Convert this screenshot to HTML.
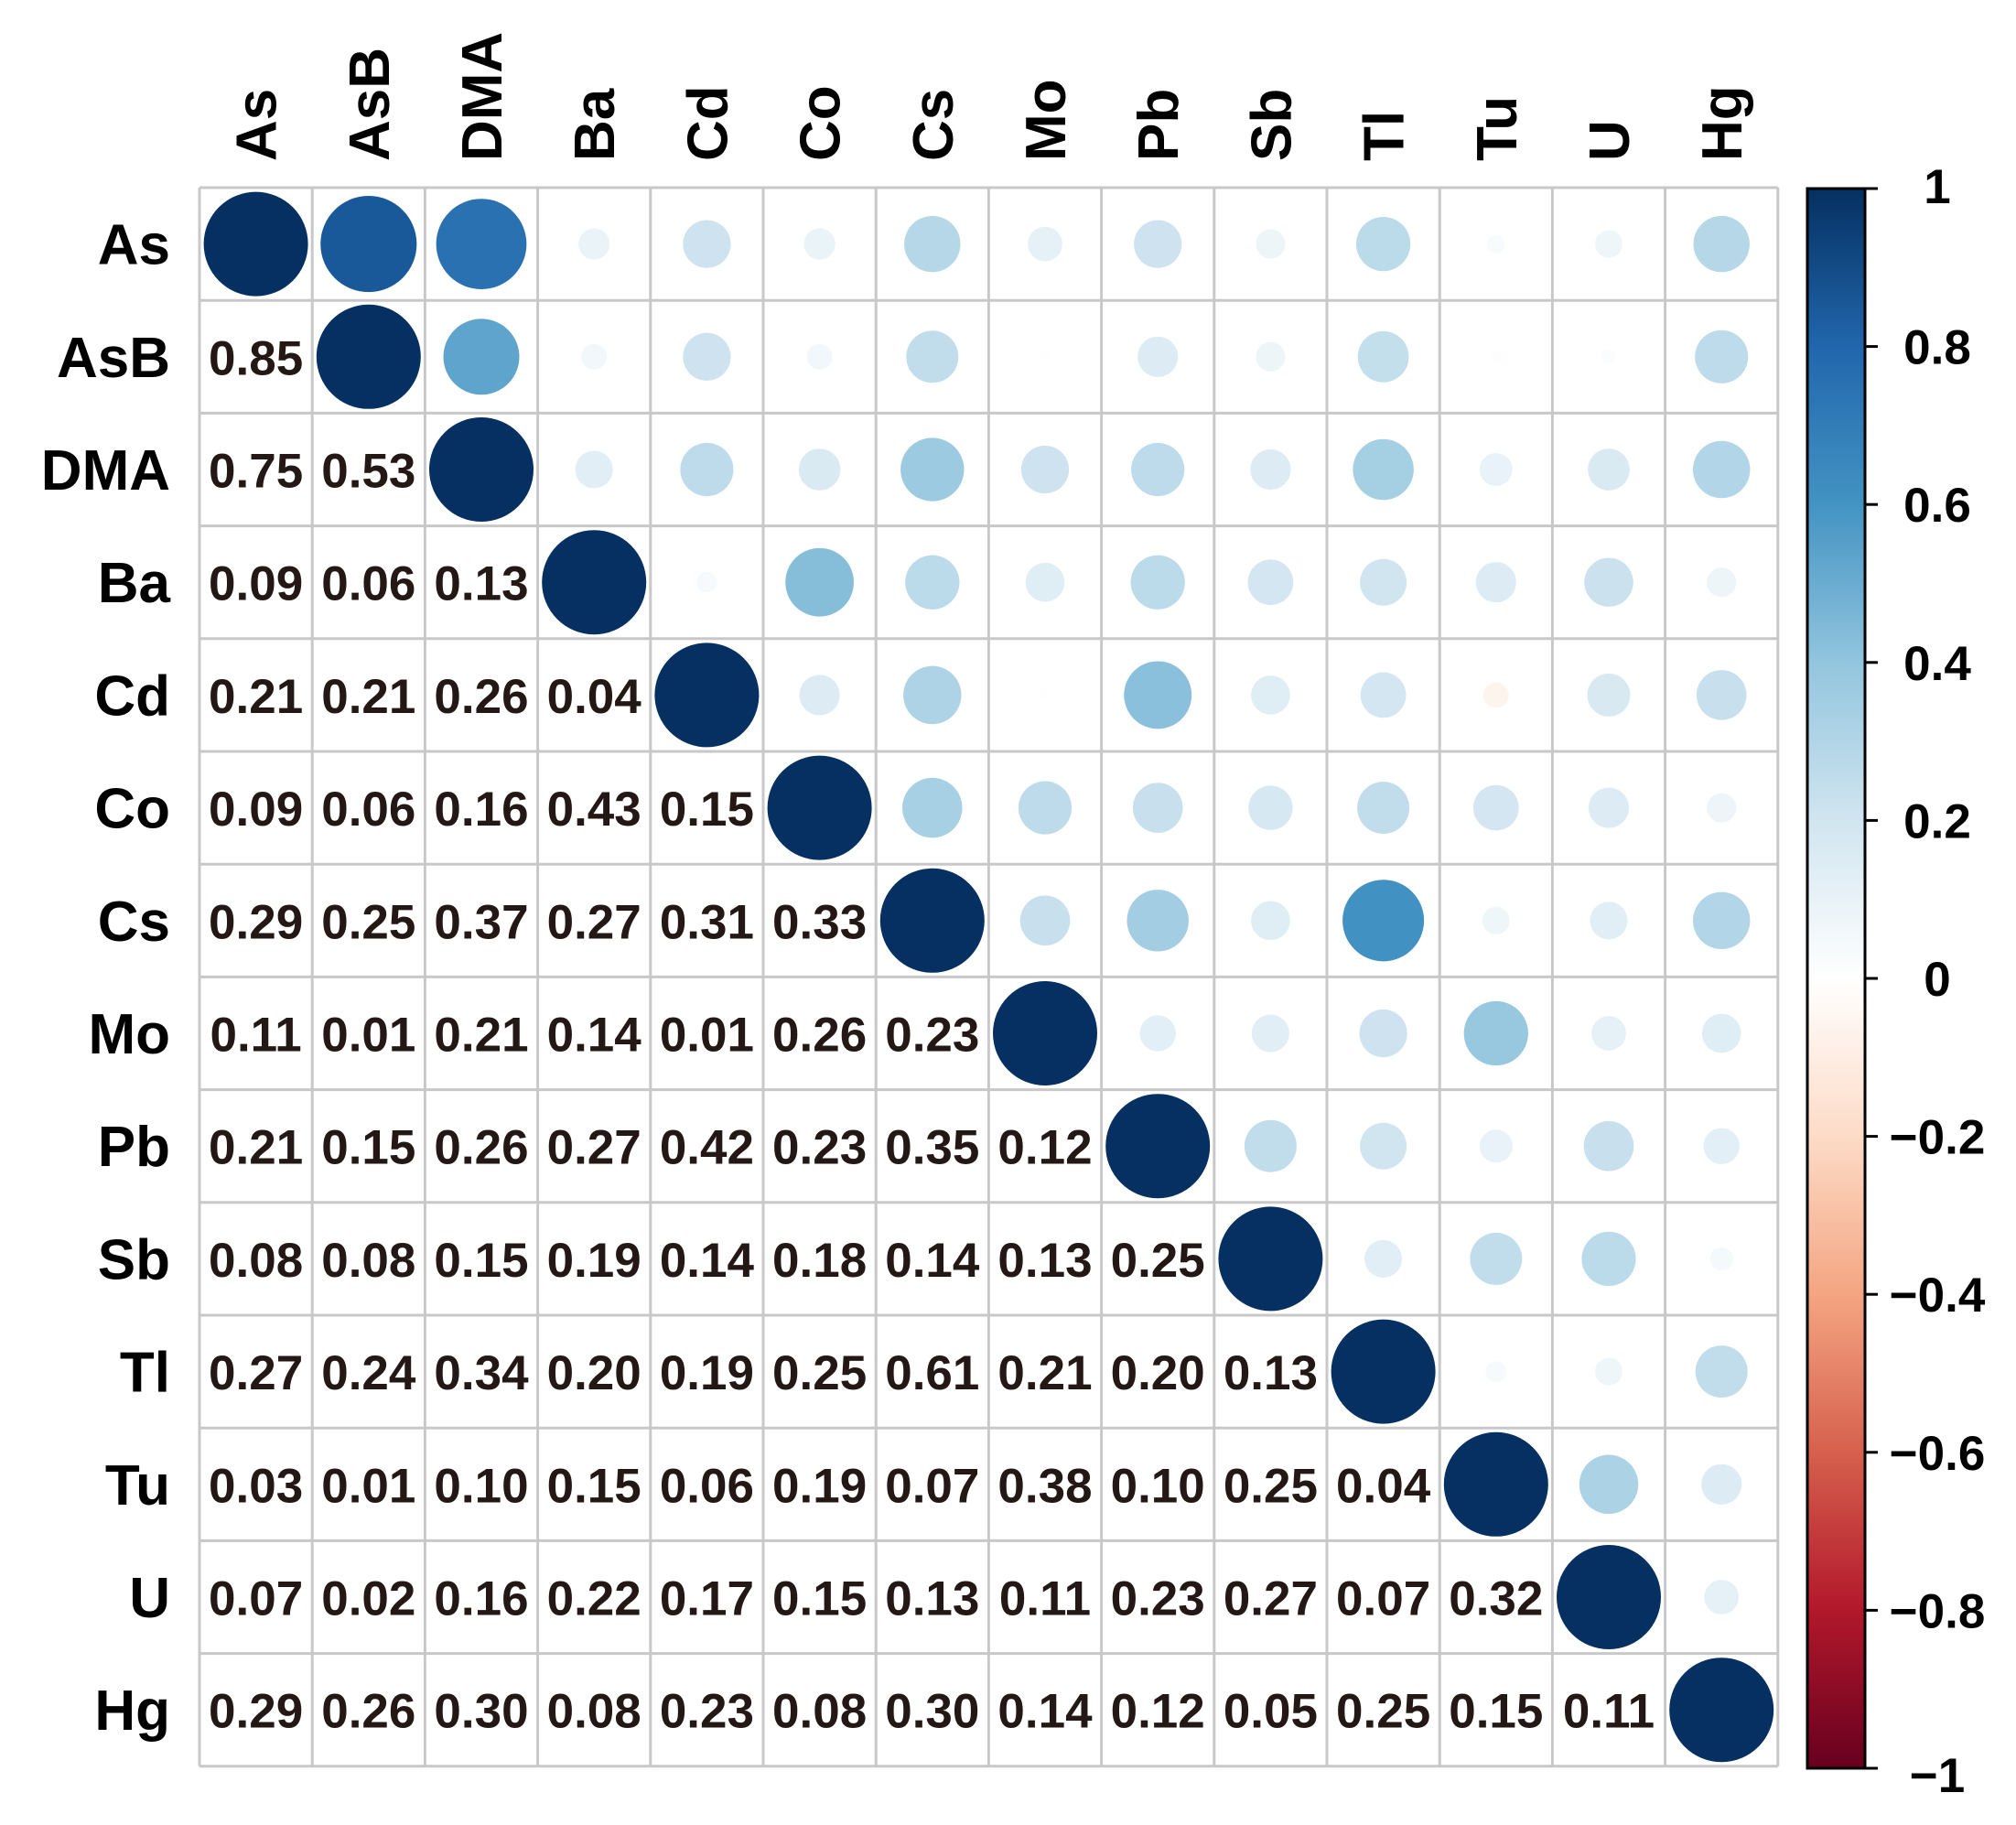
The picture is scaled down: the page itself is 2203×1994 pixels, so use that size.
<!DOCTYPE html>
<html><head><meta charset="utf-8"><style>html,body{margin:0;padding:0;background:#fff}</style></head>
<body>
<svg id="s" xmlns="http://www.w3.org/2000/svg" width="2203" height="1989" viewBox="0 0 2203 1989" font-family="Liberation Sans, Arial, sans-serif">
<defs><linearGradient id="g" x1="0" y1="0" x2="0" y2="1">
<stop offset="0" stop-color="#053061"/><stop offset="0.1" stop-color="#2166AC"/><stop offset="0.2" stop-color="#4393C3"/><stop offset="0.3" stop-color="#92C5DE"/><stop offset="0.4" stop-color="#D1E5F0"/><stop offset="0.5" stop-color="#FFFFFF"/><stop offset="0.6" stop-color="#FDDBC7"/><stop offset="0.7" stop-color="#F4A582"/><stop offset="0.8" stop-color="#D6604D"/><stop offset="0.9" stop-color="#B2182B"/><stop offset="1" stop-color="#67001F"/>
</linearGradient></defs>
</svg>
<script>
var N=["As","AsB","DMA","Ba","Cd","Co","Cs","Mo","Pb","Sb","Tl","Tu","U","Hg"];
var L=[[],[.85],[.75,.53],[.09,.06,.13],[.21,.21,.26,.04],[.09,.06,.16,.43,.15],[.29,.25,.37,.27,.31,.33],[.11,.01,.21,.14,.01,.26,.23],[.21,.15,.26,.27,.42,.23,.35,.12],[.08,.08,.15,.19,.14,.18,.14,.13,.25],[.27,.24,.34,.20,.19,.25,.61,.21,.20,.13],[.03,.01,.10,.15,.06,.19,.07,.38,.10,.25,.04],[.07,.02,.16,.22,.17,.15,.13,.11,.23,.27,.07,.32],[.29,.26,.30,.08,.23,.08,.30,.14,.12,.05,.25,.15,.11]];
var neg={"1,11":1,"4,11":1};
var P=[[5,48,97],[33,102,172],[67,147,195],[146,197,222],[209,229,240],[255,255,255],[253,219,199],[244,165,130],[214,96,77],[178,24,43],[103,0,31]];
function col(r){var t=(1-r)/2*10;var i=Math.min(9,Math.floor(t)),f=t-i;var a=P[i],b=P[i+1];return "rgb("+[0,1,2].map(function(k){return Math.round(a[k]+(b[k]-a[k])*f)}).join(",")+")";}
var X0=218,Y0=205,C=123.2,h="";
for(var i=0;i<14;i++){for(var j=0;j<14;j++){var cx=X0+C*(j+.5),cy=Y0+C*(i+.5);
if(j<i){h+='<text x="'+cx+'" y="'+(cy+19.5)+'" font-size="53" font-weight="bold" fill="#231815" text-anchor="middle">'+L[i][j].toFixed(2)+'</text>';}
else{var r=(i==j)?1:L[j][i];if(neg[i+","+j])r=-r;var rad=Math.sqrt(Math.abs(r))*57;h+='<circle cx="'+cx+'" cy="'+cy+'" r="'+rad+'" fill="'+col(r)+'"/>';}}}
for(var k=0;k<=14;k++){var p=X0+C*k,q=Y0+C*k;h+='<line x1="'+p+'" y1="'+Y0+'" x2="'+p+'" y2="'+(Y0+14*C)+'" stroke="#c8c8c8" stroke-width="3"/>';h+='<line x1="'+X0+'" y1="'+q+'" x2="'+(X0+14*C)+'" y2="'+q+'" stroke="#c8c8c8" stroke-width="3"/>';}
for(var i=0;i<14;i++){var cy=Y0+C*(i+.5),cx=X0+C*(i+.5);
h+='<text x="186" y="'+(cy+22)+'" font-size="62" font-weight="bold" text-anchor="end">'+N[i]+'</text>';
h+='<text transform="translate('+(cx+22)+',176) rotate(-90)" font-size="62" font-weight="bold">'+N[i]+'</text>';}
h+='<rect x="1975" y="206" width="63" height="1726" fill="url(#g)" stroke="#000" stroke-width="3"/>';
var labs=["1","0.8","0.6","0.4","0.2","0","\u22120.2","\u22120.4","\u22120.6","\u22120.8","\u22121"];
for(var k=0;k<=10;k++){var y=206+172.6*k;h+='<line x1="2038" y1="'+y+'" x2="2052" y2="'+y+'" stroke="#000" stroke-width="3"/>';
h+='<text x="2117" y="'+(y+(k==0?16:k==10?26:19))+'" font-size="53" font-weight="bold" text-anchor="middle">'+labs[k]+'</text>';}
document.getElementById("s").insertAdjacentHTML("beforeend",h);
</script>
</body></html>
